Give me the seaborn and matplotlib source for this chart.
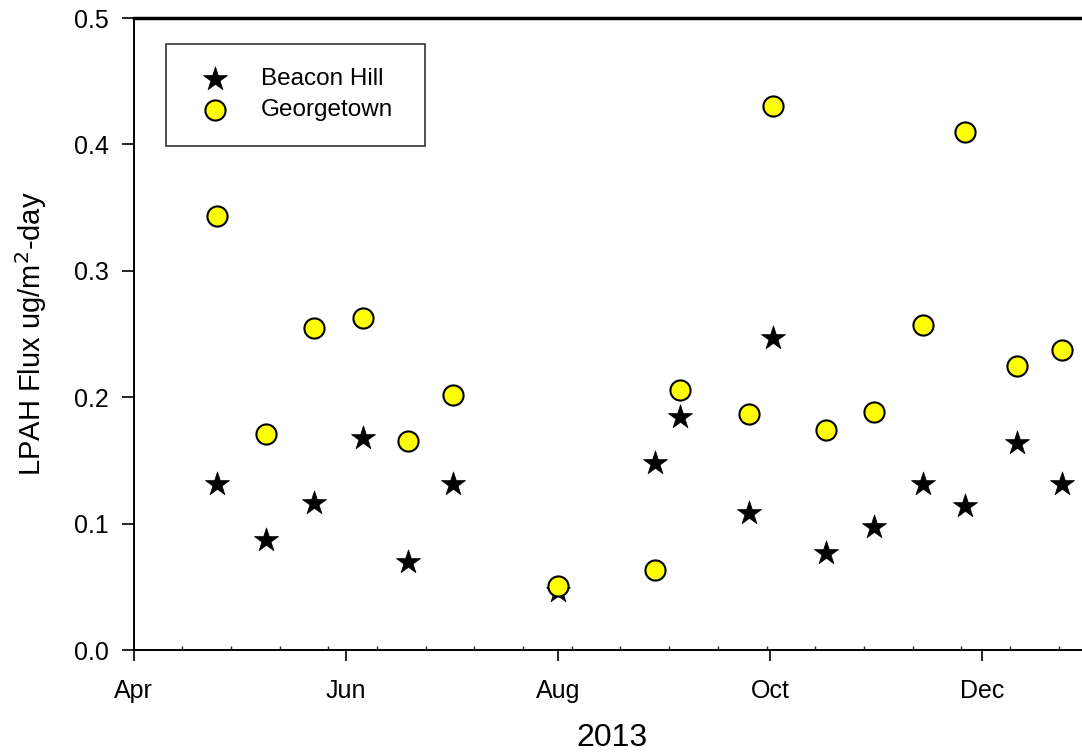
import pandas as pd
import matplotlib
matplotlib.use("Agg")
import matplotlib.pyplot as plt
import matplotlib.dates as mdates
import seaborn as sns

# Sampling dates (2013) and LPAH flux values
dates = ["2013-04-25", "2013-05-09", "2013-05-23", "2013-06-06", "2013-06-19",
         "2013-07-02", "2013-08-01", "2013-08-29", "2013-09-05", "2013-09-25",
         "2013-10-02", "2013-10-17", "2013-10-31", "2013-11-14", "2013-11-26",
         "2013-12-11", "2013-12-24"]
beacon_hill = [0.131, 0.087, 0.116, 0.168, 0.070, 0.131, 0.047, 0.148, 0.184,
               0.108, 0.247, 0.077, 0.097, 0.131, 0.114, 0.164, 0.131]
georgetown = [0.343, 0.171, 0.255, 0.263, 0.165, 0.202, 0.051, 0.063, 0.206,
              0.187, 0.430, 0.174, 0.188, 0.257, 0.410, 0.225, 0.237]
month_ticks = ["2013-04-01", "2013-06-01", "2013-08-01", "2013-10-01", "2013-12-01"]

df = pd.DataFrame({
    "date": pd.to_datetime(dates),
    "Beacon Hill": beacon_hill,
    "Georgetown": georgetown,
})

sns.set_style("ticks")
plt.rcParams["font.family"] = ["Liberation Sans", "DejaVu Sans"]
plt.rcParams["text.color"] = "black"
plt.rcParams["axes.labelcolor"] = "black"

fig = plt.figure(figsize=(10.82, 7.55), dpi=100)
ax = fig.add_axes([133.5 / 1082, 105 / 755, (1090 - 133.5) / 1082, 632 / 755])

sns.scatterplot(data=df, x="date", y="Beacon Hill", marker="*", s=330,
                color="black", edgecolor="black", linewidth=0.5,
                label="Beacon Hill", ax=ax, zorder=3)
sns.scatterplot(data=df, x="date", y="Georgetown", marker="o", s=210,
                color="#ffff00", edgecolor="black", linewidth=1.5,
                label="Georgetown", ax=ax, zorder=4)

# Axes limits and ticks
ax.set_xlim(pd.Timestamp("2013-04-01"), pd.Timestamp("2014-01-01"))
ax.set_ylim(0, 0.5)
ax.set_xticks(pd.to_datetime(month_ticks))
ax.xaxis.set_major_formatter(mdates.DateFormatter("%b"))
ax.set_xticks(pd.date_range("2013-04-01", "2013-12-31", freq="14D"), minor=True)
ax.set_yticks([0.0, 0.1, 0.2, 0.3, 0.4, 0.5])
ax.set_yticklabels(["0.0", "0.1", "0.2", "0.3", "0.4", "0.5"])

ax.tick_params(axis="x", which="major", direction="out", length=8, width=1.2,
               labelsize=18, colors="black", pad=13)
ax.tick_params(axis="y", which="major", direction="out", length=9, width=1.2,
               labelsize=18, colors="black", pad=9)
ax.tick_params(axis="x", which="minor", direction="in", length=3, width=1)

for side in ["left", "bottom", "top"]:
    ax.spines[side].set_linewidth(1.4)
    ax.spines[side].set_color("black")
ax.spines["top"].set_linewidth(2.5)
ax.spines["right"].set_visible(False)

ax.set_xlabel("2013", fontsize=23)
ax.xaxis.set_label_coords(0.5, -0.115)
ax.set_ylabel("LPAH Flux ug/m$^2$-day", fontsize=21)
ax.yaxis.set_label_coords(-0.088, 0.5)

leg = ax.legend(loc="upper left", bbox_to_anchor=(0.034, 0.80, 0.2708, 0.159),
                mode="expand", borderaxespad=0, frameon=True, fancybox=False,
                fontsize=17.5, handletextpad=0.88, borderpad=1.0,
                labelspacing=0.37, handlelength=2.03)
leg.get_frame().set_edgecolor("black")
leg.get_frame().set_linewidth(1.2)

fig.savefig("out.png", dpi=100)
